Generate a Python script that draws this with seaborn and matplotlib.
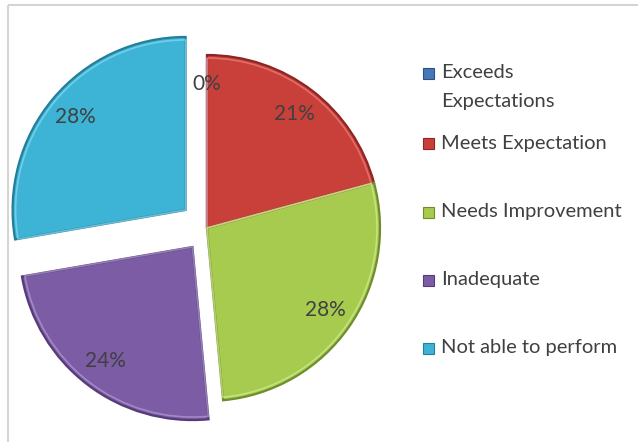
import matplotlib
matplotlib.use("Agg")
import matplotlib.pyplot as plt
from matplotlib.patches import Rectangle
import seaborn as sns

# Rating distribution
categories = ["Exceeds\nExpectations", "Meets Expectation", "Needs Improvement",
              "Inadequate", "Not able to perform"]
percentages = [0, 21, 28, 24, 28]
explode_px = [0, 0, 0, 24, 28]
slice_colors = ["#4677B8", "#C9403B", "#A6CB4E", "#7D5CA6", "#3DB4D5"]
edge_colors = ["#2E5080", "#8E2522", "#6E8E2C", "#553C78", "#237F99"]
light_edges = ["#8DB0DE", "#E8827E", "#D3EC94", "#B39BD2", "#8AD8EE"]

sns.set_theme(style="white")
plt.rcParams["font.family"] = ["Lato", "DejaVu Sans"]

W, H = 638, 442
fig = plt.figure(figsize=(W / 100, H / 100), dpi=100)
ax = fig.add_axes([0, 0, 1, 1])

center = (207, H - 228)
radius = 173

wedges, _, autotexts = ax.pie(
    percentages,
    colors=slice_colors,
    startangle=90,
    counterclock=False,
    explode=explode_px,
    center=center,
    radius=radius,
    autopct=lambda p: "",
    pctdistance=0.83,
    wedgeprops=dict(linewidth=1.6, antialiased=True),
)
for w, ec in zip(wedges, edge_colors):
    w.set_edgecolor(ec)

# inner highlight to give the slices a bevelled look
inner, _ = ax.pie(
    percentages,
    colors=["none"] * len(percentages),
    startangle=90,
    counterclock=False,
    explode=explode_px,
    center=center,
    radius=radius - 3,
    wedgeprops=dict(linewidth=1.2, fill=False),
)
for w, lc in zip(inner, light_edges):
    w.set_edgecolor(lc)
    w.set_alpha(0.7)

for t, v in zip(autotexts, percentages):
    t.set_text(f"{v}%")
    t.set_fontsize(15)
    t.set_color("#404040")

ax.set_xlim(0, W)
ax.set_ylim(0, H)
ax.set_aspect("equal")
ax.axis("off")

# chart-area frame: top and left edges
ax.plot([7.5, W + 5], [H - 4.5, H - 4.5], color="#D4D4D4", lw=1.5,
        solid_capstyle="butt")
ax.plot([7.5, 7.5], [-5, H - 4.5], color="#D4D4D4", lw=1.5,
        solid_capstyle="butt")

# legend
legend_y = [73, 143, 212, 280, 348]
line_gap = 28
for label, col, ec, y in zip(categories, slice_colors, edge_colors, legend_y):
    ax.add_patch(Rectangle((423, H - y - 5.5), 11, 11, facecolor=col,
                           edgecolor=ec, linewidth=0.8))
    for i, part in enumerate(label.split("\n")):
        ax.text(441, H - y - i * line_gap, part, fontsize=14.5,
                color="#404040", va="center", ha="left")

fig.savefig("out.png", dpi=100, facecolor="white")
